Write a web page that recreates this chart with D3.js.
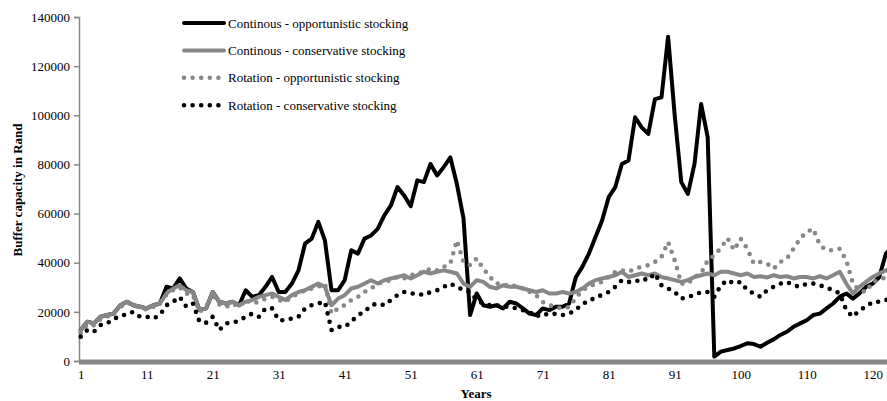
<!DOCTYPE html>
<html>
<head>
<meta charset="utf-8">
<script src="https://cdn.jsdelivr.net/npm/d3@7/dist/d3.min.js"></script>
<style>
  body { margin: 0; background: #fff; }
  svg { display: block; }
  svg text { font-family: "Liberation Serif", "Times New Roman", Times, "DejaVu Serif", serif !important; fill: #000; }
</style>
</head>
<body>
<svg id="chart" width="887" height="401"></svg>
<script>
// Tick labels shown every tenth year along the category axis
const tickLabels = ["1", "11", "21", "31", "41", "51", "61", "71", "81", "91", "100", "110", "120"];
const yTicks = [0, 20000, 40000, 60000, 80000, 100000, 120000, 140000];

const seriesNames = [
  "Continous - opportunistic stocking",
  "Continous - conservative stocking",
  "Rotation - opportunistic stocking",
  "Rotation - conservative stocking"
];

// Buffer capacity (Rand), one value per simulated year
const contOpp = [
  12600, 16000, 15300, 18000, 18700, 19300, 22700, 24100, 22700, 22100,
  21400, 22700, 23400, 30200, 29500, 33600, 29500, 28100, 20700, 21400,
  28100, 24100, 23400, 24100, 22700, 28800, 26100, 26800, 30200, 34200,
  28100, 28100, 31500, 36900, 47800, 49800, 56600, 49100, 28800, 28800,
  32900, 45100, 43700, 49800, 51100, 53800, 59300, 63300, 70800, 67400,
  63000, 73500, 72800, 80200, 75500, 78900, 82900, 72000, 58000, 18700,
  27500, 22700, 22100, 22700, 21400, 24100, 23400, 21400, 19300, 18700,
  21400, 20700, 22100, 22100, 23400, 34000, 38300, 43700, 50500, 57200,
  66700, 70800, 80200, 81600, 99200, 95100, 92400, 106600, 107300, 132000,
  100000, 72800, 68000, 80200, 104600, 91000, 1800, 3800, 4500, 5100,
  6100, 7200, 6900, 5800, 7400, 8800, 10600, 11900, 13900, 15300,
  16600, 18700, 19300, 21400, 23400, 26100, 27500, 25400, 27500, 30200,
  31500, 34200, 43700, 46400
];

const contCons = [
  12600, 16000, 15300, 18000, 18700, 19300, 22700, 24100, 22700, 22100,
  21400, 22700, 23400, 27500, 29500, 30800, 28800, 28100, 20700, 21400,
  28100, 24100, 23400, 24100, 22700, 24100, 24800, 26100, 26800, 27500,
  26100, 24800, 26800, 28100, 28800, 30200, 31500, 30200, 22700, 25400,
  26800, 29500, 30200, 31500, 32900, 31500, 32900, 33600, 34200, 34900,
  33600, 34900, 36300, 35600, 36300, 36900, 36300, 35600, 31500, 30200,
  32900, 32200, 30200, 29500, 30800, 30200, 30200, 29500, 28800, 28100,
  28800, 27500, 27500, 28100, 27500, 28100, 29500, 31500, 32900, 33600,
  34200, 34900, 36300, 34200, 34900, 35600, 34900, 35600, 34200, 33600,
  32900, 32200, 32900, 34200, 34900, 35600, 34900, 36300, 36300, 35600,
  34900, 35600, 34200, 34500, 34000, 34900, 34200, 34500, 33600, 34200,
  34200, 33600, 34500, 33600, 34900, 36300, 31500, 27500, 30200, 32200,
  34200, 35600, 36900, 38000
];

const rotOpp = [
  11500, 15000, 14500, 17000, 18000, 19800, 22000, 23600, 23000, 21500,
  21000, 22000, 24000, 27000, 28800, 30000, 27500, 26800, 20000, 22000,
  27500, 23000, 22000, 23400, 22000, 24800, 23400, 24100, 25400, 26100,
  24800, 24100, 26100, 27500, 28800, 29500, 30200, 31500, 19300, 21400,
  22700, 24800, 26100, 28100, 29500, 31500, 32200, 32900, 34200, 33600,
  34900, 35600, 36300, 37600, 36900, 38300, 39600, 49100, 40300, 39000,
  41700, 37600, 34200, 31500, 31500, 30200, 30800, 29500, 28100, 26800,
  24000, 22700, 22000, 21400, 22000, 25500, 28800, 30200, 31500, 32200,
  34200, 36300, 36900, 36300, 37600, 38300, 39000, 40300, 42400, 48400,
  41000, 31500, 31500, 34200, 35600, 41000, 43000, 46000, 50000, 45100,
  49800, 45700, 39600, 40300, 39600, 37600, 40300, 41700, 45700, 49800,
  52500, 53800, 47100, 45100, 45100, 45700, 41000, 31500, 28800, 28100,
  32200, 32900, 34200, 35000
];

const rotCons = [
  9900, 12600, 11900, 14600, 15300, 17300, 18000, 19300, 20000, 18000,
  18000, 17300, 18700, 22700, 24100, 26100, 22100, 23400, 16000, 15600,
  18000, 12600, 15300, 15600, 16400, 18000, 19300, 18000, 21400, 21400,
  16600, 16600, 17300, 18000, 21400, 22700, 23400, 24100, 12600, 13900,
  13900, 16000, 18700, 20000, 22700, 23400, 22700, 24800, 26800, 28100,
  27500, 27500, 26800, 28100, 28800, 30200, 31500, 30200, 28800, 28100,
  24800, 23400, 22700, 22700, 22100, 22100, 21400, 20700, 20000, 18000,
  19300, 18700, 19300, 18700, 19300, 20700, 23400, 24100, 26100, 26800,
  28100, 30200, 32900, 32200, 32200, 33600, 32900, 35600, 30800, 29500,
  28100, 25400, 26100, 26800, 28100, 28100, 26100, 30800, 32900, 31500,
  32200, 28800, 27500, 26100, 28800, 30200, 31500, 32200, 30800, 30200,
  31500, 31500, 30800, 29900, 28800, 27500, 20700, 18000, 20700, 22100,
  24100, 24100, 24800, 25500
];

const GREY = "#878787";
const styles = [
  { stroke: "#000", width: 4, dash: null },
  { stroke: GREY, width: 4, dash: null },
  { stroke: GREY, width: 4.6, dash: "0 8.6" },
  { stroke: "#000", width: 4.6, dash: "0 8.6" }
];
const allSeries = [contOpp, contCons, rotOpp, rotCons];
const FONT = "'Liberation Serif', 'Times New Roman', Times, 'DejaVu Serif', serif";

const svg = d3.select("#chart");

const x = d3.scaleLinear().domain([0, 120]).range([80.7, 872.7]);
const y = d3.scaleLinear().domain([0, 140000]).range([361, 17]);

// Y axis
const yAxis = svg.append("g")
  .attr("font-family", FONT)
  .attr("transform", "translate(79,0)")
  .call(d3.axisLeft(y).tickValues(yTicks).tickSize(5).tickPadding(4).tickFormat(d3.format("d")));
yAxis.attr("font-family", FONT).attr("font-size", 13);
yAxis.select(".domain").attr("stroke", GREY).attr("stroke-width", 1.5);
yAxis.selectAll(".tick line").attr("stroke", GREY).attr("stroke-width", 1.5);
yAxis.selectAll(".tick text").attr("fill", "#000");

// X axis labels
const xAxis = svg.append("g")
  .attr("transform", "translate(0,361)")
  .call(d3.axisBottom(x).tickValues(d3.range(0, 121, 10)).tickSize(0).tickPadding(9)
    .tickFormat((d, i) => tickLabels[i]));
xAxis.attr("font-family", FONT).attr("font-size", 13);
xAxis.select(".domain").remove();
xAxis.selectAll(".tick text").attr("fill", "#000");

// Series lines
const line = d3.line().x((d, i) => x(i)).y(d => y(d));
const plot = svg.append("g");
allSeries.forEach((data, k) => {
  const s = styles[k];
  plot.append("path")
    .datum(data)
    .attr("fill", "none")
    .attr("stroke", s.stroke)
    .attr("stroke-width", s.width)
    .attr("stroke-linejoin", "round")
    .attr("stroke-linecap", "round")
    .attr("stroke-dasharray", s.dash)
    .attr("d", line);
});

// Thick category axis line along zero
svg.append("line")
  .attr("x1", 79).attr("x2", 887)
  .attr("y1", y(0) + 1).attr("y2", y(0) + 1)
  .attr("stroke", GREY).attr("stroke-width", 5);

// Axis titles
svg.append("text")
  .attr("transform", "translate(22,190) rotate(-90)")
  .attr("text-anchor", "middle")
  .attr("font-family", FONT)
  .attr("font-size", 13)
  .attr("font-weight", "bold")
  .text("Buffer capacity in Rand");

svg.append("text")
  .attr("x", 476).attr("y", 398)
  .attr("text-anchor", "middle")
  .attr("font-family", FONT)
  .attr("font-size", 13)
  .attr("font-weight", "bold")
  .text("Years");

// Legend
const legend = svg.append("g");
seriesNames.forEach((name, k) => {
  const s = styles[k];
  const ly = 23 + k * 27.4;
  legend.append("line")
    .attr("x1", 184).attr("x2", 224)
    .attr("y1", ly).attr("y2", ly)
    .attr("stroke", s.stroke)
    .attr("stroke-width", s.width)
    .attr("stroke-linecap", "round")
    .attr("stroke-dasharray", s.dash ? "0 8.6" : null);
  legend.append("text")
    .attr("x", 228).attr("y", ly + 4.5)
    .attr("font-family", FONT)
    .attr("font-size", 13)
    .text(name);
});
</script>
</body>
</html>
